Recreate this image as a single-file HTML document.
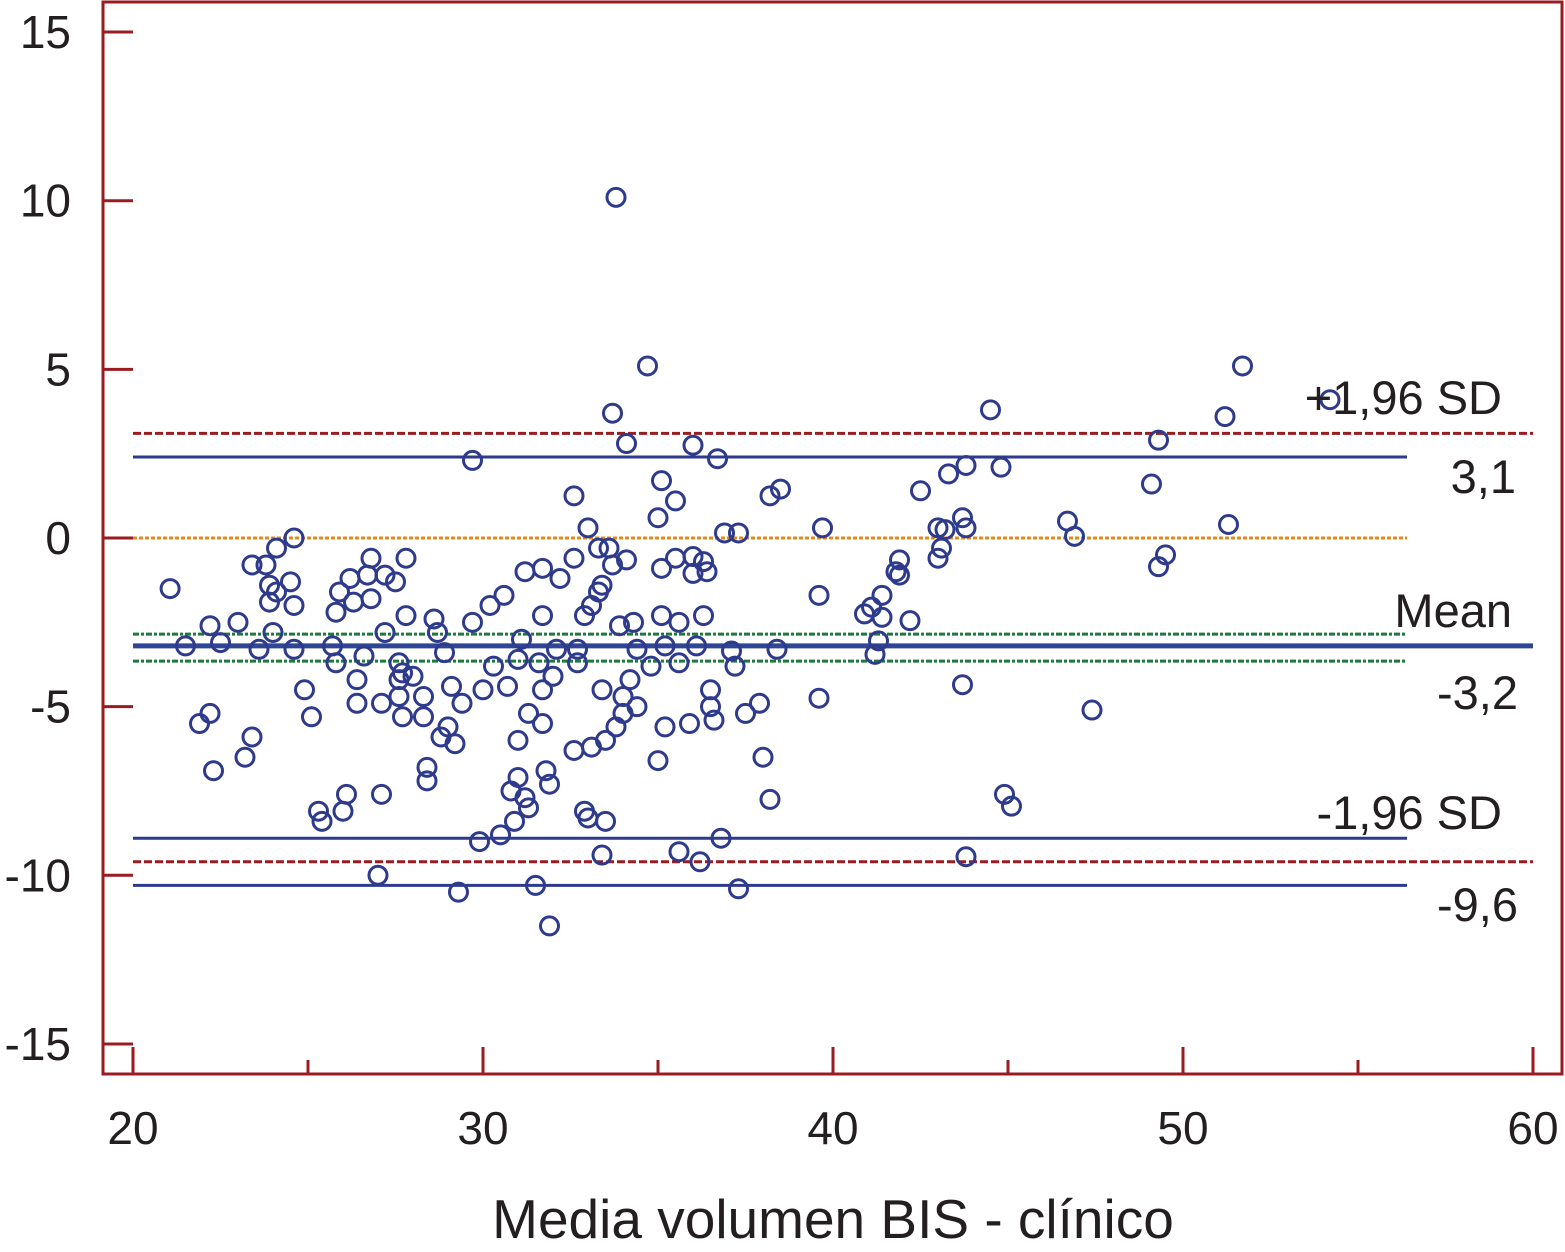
<!DOCTYPE html>
<html><head><meta charset="utf-8"><style>
html,body{margin:0;padding:0;background:#fff;}
svg{display:block;}
text{font-family:"Liberation Sans",Arial,sans-serif;fill:#231f20;}
</style></head><body>
<svg id="chart" width="1565" height="1252" xmlns="http://www.w3.org/2000/svg"></svg>
<script>
const xTicks=[20,30,40,50,60];
const xMinor=[25,35,45,55];
const yTicks=[15,10,5,0,-5,-10,-15];
const yTickLabels=["15","10","5","0","-5","-10","-15"];
const upperLimit=3.1, lowerLimit=-9.6, meanDiff=-3.2;
const upperCI=[2.4], lowerCIa=[-8.9], lowerCIb=[-10.3];
const meanCI=[-2.85,-3.65];
const meanX=[21.06,21.5,21.9,22.2,22.2,22.3,22.5,23.0,23.2,23.4,23.4,23.6,23.8,23.9,23.9,24.0,24.1,24.1,24.5,24.6,24.6,24.6,24.9,25.1,25.3,25.4,25.7,25.8,25.8,25.9,26.0,26.1,26.2,26.3,26.4,26.4,26.6,26.7,26.8,26.8,27.0,27.1,27.1,27.2,27.2,27.5,27.6,27.6,27.6,27.7,27.7,27.8,27.8,28.0,28.3,28.3,28.4,28.4,28.6,28.7,28.8,28.9,29.0,29.1,29.2,29.3,29.4,29.7,29.7,29.9,30.0,30.2,30.3,30.5,30.6,30.7,30.8,30.9,31.0,31.0,31.0,31.1,31.2,31.2,31.3,31.3,31.5,31.6,31.7,31.7,31.7,31.7,31.8,31.9,31.9,32.0,32.1,32.2,32.6,32.6,32.6,32.7,32.7,32.9,32.9,33.0,33.0,33.1,33.1,33.3,33.4,33.3,33.4,33.4,33.5,33.5,33.6,33.7,33.7,33.8,33.8,33.9,34.0,34.0,34.1,34.1,34.2,34.3,34.4,34.4,34.7,34.8,35.0,35.0,35.1,35.1,35.1,35.2,35.2,35.5,35.5,35.6,35.6,35.6,35.9,36.0,36.0,36.0,36.1,36.2,36.3,36.3,36.4,36.5,36.5,36.6,36.7,36.8,36.9,37.1,37.2,37.3,37.3,37.5,37.9,38.0,38.2,38.2,38.4,38.5,39.6,39.6,39.7,40.9,41.1,41.2,41.3,41.4,41.4,41.8,41.9,41.9,42.2,42.5,43.0,43.0,43.1,43.2,43.3,43.7,43.7,43.8,43.8,43.8,44.5,44.8,44.9,45.1,46.7,46.9,47.4,49.1,49.3,49.3,49.5,51.2,51.3,51.7,54.2];
const diffY=[-1.5,-3.2,-5.5,-2.6,-5.2,-6.9,-3.1,-2.5,-6.5,-5.9,-0.8,-3.3,-0.8,-1.4,-1.9,-2.8,-1.6,-0.3,-1.3,0,-3.3,-2.0,-4.5,-5.3,-8.1,-8.4,-3.2,-2.2,-3.7,-1.6,-8.1,-7.6,-1.2,-1.9,-4.2,-4.9,-3.5,-1.1,-0.6,-1.8,-10,-7.6,-4.9,-2.8,-1.1,-1.3,-3.7,-4.2,-4.7,-5.3,-4.0,-0.6,-2.3,-4.1,-4.7,-5.3,-6.8,-7.2,-2.4,-2.8,-5.9,-3.4,-5.6,-4.4,-6.1,-10.5,-4.9,2.3,-2.5,-9.0,-4.5,-2.0,-3.8,-8.8,-1.7,-4.4,-7.5,-8.4,-6.0,-3.6,-7.1,-3.0,-7.7,-1.0,-8.0,-5.2,-10.3,-3.7,-0.9,-2.3,-4.5,-5.5,-6.9,-7.3,-11.5,-4.1,-3.3,-1.2,1.25,-0.6,-6.3,-3.3,-3.7,-2.3,-8.1,0.3,-8.3,-2.0,-6.2,-0.3,-1.4,-1.6,-9.4,-4.5,-8.4,-6.0,-0.3,3.7,-0.8,-5.6,10.1,-2.6,-5.2,-4.7,2.8,-0.65,-4.2,-2.5,-5.0,-3.3,5.1,-3.8,0.6,-6.6,1.7,-2.3,-0.9,-3.2,-5.6,1.1,-0.6,-9.3,-2.5,-3.7,-5.5,-0.55,2.75,-1.05,-3.2,-9.6,-2.3,-0.7,-1.0,-4.5,-5.0,-5.4,2.35,-8.9,0.15,-3.35,-3.8,0.15,-10.4,-5.2,-4.9,-6.5,-7.75,1.25,-3.3,1.45,-1.7,-4.75,0.3,-2.25,-2.05,-3.45,-3.05,-1.7,-2.35,-1.0,-0.65,-1.1,-2.45,1.4,-0.6,0.3,-0.3,0.25,1.9,0.6,-4.35,2.15,0.3,-9.45,3.8,2.1,-7.6,-7.95,0.5,0.05,-5.1,1.6,-0.85,2.9,-0.5,3.6,0.4,5.1,4.1];

const svg=document.getElementById('chart');
const NS='http://www.w3.org/2000/svg';
const X=v=>133+(v-20)*35;
const Y=v=>538-v*33.73;
const RED='#9b1c20', BLUE='#2e3a8c';
function mk(tag,attrs,parent){const e=document.createElementNS(NS,tag);for(const k in attrs)e.setAttribute(k,attrs[k]);(parent||svg).appendChild(e);return e;}

let fr=mk('rect',{x:103,y:2,width:1459,height:1072,fill:'none',stroke:RED,'stroke-width':3});



yTicks.forEach((v,i)=>{
  let t=mk('line',{x1:103,x2:133,y1:Y(v),y2:Y(v),stroke:RED,'stroke-width':3});
  
  
  let l=mk('text',{x:71,y:Y(v)+16,'font-size':46,'text-anchor':'end'});
  l.textContent=yTickLabels[i];
  
  
});
xTicks.forEach(v=>{
  let t=mk('line',{x1:X(v),x2:X(v),y1:1074,y2:1047,stroke:RED,'stroke-width':3});
  
  
  let l=mk('text',{x:X(v),y:1144,'font-size':46,'text-anchor':'middle'});
  l.textContent=String(v);
  
  
});
xMinor.forEach(v=>{
  let t=mk('line',{x1:X(v),x2:X(v),y1:1074,y2:1060,stroke:RED,'stroke-width':3});
  
  
});
let xt=mk('text',{x:833,y:1238,'font-size':55,'text-anchor':'middle'});
xt.textContent='Media volumen BIS - clínico';



function hline(v,x2,color,w,dash,name){
  let l=mk('line',{x1:133,x2:x2,y1:Y(v),y2:Y(v),stroke:color,'stroke-width':w});
  if(dash)l.setAttribute('stroke-dasharray',dash);
  
  
}
hline(0,1407,'#e08a1e',3,'4 2','zero-line');
hline(upperLimit,1533,RED,3,'8 3','upper-limit-line');
hline(upperCI[0],1407,BLUE,3,null,'upper-limit-ci-line');
meanCI.forEach(v=>hline(v,1407,'#1e7a3c',3,'6 2 3 2','mean-ci-line'));
hline(meanDiff,1533,'#2f4596',5,null,'mean-line');
hline(lowerCIa[0],1407,BLUE,3,null,'lower-limit-ci-line');
hline(lowerLimit,1533,RED,3,'8 3','lower-limit-line');
hline(lowerCIb[0],1407,BLUE,3,null,'lower-limit-ci-line');

meanX.forEach((x,i)=>{
  let c=mk('circle',{cx:X(x),cy:Y(diffY[i]),r:9,fill:'none',stroke:BLUE,'stroke-width':3});
  
  
});

function label(txt,x,y,name){
  let t=mk('text',{x:x,y:y,'font-size':47,'text-anchor':'end'});
  t.textContent=txt;
  
  
}
label('+1,96 SD',1502,414,'upper-limit-label');
label('3,1',1516,493,'upper-limit-value');
label('Mean',1512,627,'mean-label');
label('-3,2',1518,709,'mean-value');
label('-1,96 SD',1502,829,'lower-limit-label');
label('-9,6',1518,921,'lower-limit-value');
</script>
</body></html>
